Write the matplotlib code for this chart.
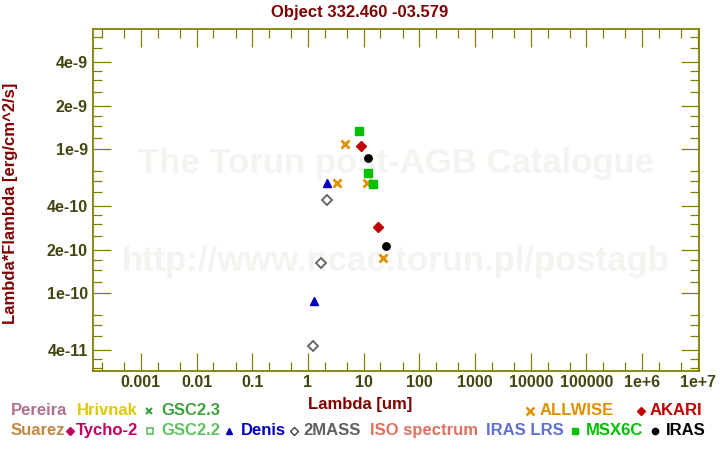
import matplotlib
matplotlib.use('Agg')
import matplotlib.pyplot as plt
from matplotlib.lines import Line2D
from matplotlib.ticker import FixedLocator, LogLocator, NullFormatter

plt.rcParams['font.family'] = ['Liberation Sans', 'DejaVu Sans']
plt.rcParams['font.weight'] = 'bold'

# photometry: wavelength [um] and lambda*F_lambda [erg/cm^2/s]
denis_wl = [1.27, 2.19]
denis_fl = [8.85e-11, 5.83e-10]
twomass_wl = [1.25, 1.71, 2.22]
twomass_fl = [4.31e-11, 1.61e-10, 4.42e-10]
allwise_wl = [3.36, 4.67, 11.6, 22.5]
allwise_fl = [5.78e-10, 1.08e-9, 5.78e-10, 1.74e-10]
msx_wl = [8.34, 12.1, 14.6]
msx_fl = [1.34e-9, 6.78e-10, 5.69e-10]
akari_wl = [9.06, 18.3]
akari_fl = [1.05e-9, 2.86e-10]
iras_wl = [12.1, 25.5]
iras_fl = [8.62e-10, 2.11e-10]

x_ticks = [1e-3, 1e-2, 1e-1, 1, 10, 100, 1e3, 1e4, 1e5, 1e6, 1e7]
x_labels = ['0.001', '0.01', '0.1', '1', '10', '100', '1000', '10000',
            '100000', '1e+6', '1e+7']
y_ticks = [4e-11, 1e-10, 2e-10, 4e-10, 1e-9, 2e-9, 4e-9]
y_labels = ['4e-11', '1e-10', '2e-10', '4e-10', '1e-9', '2e-9', '4e-9']

olive = '#808000'
ticktxt = '#454512'
darkred = '#800000'

fig = plt.figure(figsize=(7.2, 4.5), dpi=100)
ax = fig.add_axes([92.7 / 720, 1 - 370.7 / 450, (699 - 92.7) / 720, (370.7 - 29.3) / 450])

# watermark
ax.text(0.5, 0.608, 'The Torun post-AGB Catalogue', transform=ax.transAxes,
        ha='center', va='center', fontsize=25, color='#f5f3ef', zorder=0)
ax.text(0.5, 0.319, 'http://www.ncac.torun.pl/postagb', transform=ax.transAxes,
        ha='center', va='center', fontsize=25, color='#f5f3ef', zorder=0)

# data
ax.plot(twomass_wl, twomass_fl, 'D', ms=5.2, mfc='white', mec='#606060', mew=1.3, ls='none')
ax.plot(denis_wl, denis_fl, '^', ms=5.8, color='#0000c0', ls='none')
ax.plot(allwise_wl, allwise_fl, 'x', ms=6, mew=2, color='#e09000', ls='none')
ax.plot(msx_wl, msx_fl, 's', ms=5.3, color='#00c000', ls='none')
ax.plot(akari_wl, akari_fl, 'D', ms=5.5, color='#c00000', ls='none')
ax.plot(iras_wl, iras_fl, 'o', ms=5.3, color='black', ls='none')

ax.set_xscale('log')
ax.set_yscale('log')
ax.set_xlim(10 ** -3.865, 10 ** 7.02)
ax.set_ylim(10 ** -10.540, 10 ** -8.169)

ax.xaxis.set_major_locator(FixedLocator(x_ticks))
ax.set_xticklabels(x_labels)
ax.xaxis.set_minor_locator(LogLocator(subs=(2, 5), numticks=50))
ax.xaxis.set_minor_formatter(NullFormatter())
ax.yaxis.set_major_locator(FixedLocator(y_ticks))
ax.set_yticklabels(y_labels)
ax.yaxis.set_minor_locator(LogLocator(subs=(1.2, 1.45, 1.7, 2.5, 3.0, 3.5, 5.0, 6.0, 7.0), numticks=50))
ax.yaxis.set_minor_formatter(NullFormatter())

ax.tick_params(which='both', direction='in', top=True, right=True, color=olive, width=0.9)
ax.tick_params(which='major', length=13, labelsize=11.5, labelcolor=ticktxt)
ax.tick_params(which='minor', length=6.5)
ax.tick_params(axis='x', pad=3)
ax.tick_params(axis='y', pad=3.5)
for s in ax.spines.values():
    s.set_color(olive)
    s.set_linewidth(1.3)

fig.text(0.5, 1 - 12 / 450, 'Object 332.460 -03.579', ha='center', va='center',
         fontsize=12, color=darkred)
fig.text(0.5, 1 - 405 / 450, 'Lambda [um]', ha='center', va='center',
         fontsize=12, color=darkred)
fig.text(11 / 720, 1 - 203 / 450, 'Lambda*Flambda [erg/cm^2/s]', ha='center', va='center',
         rotation=90, fontsize=12, color=darkred)

# legend (text entries with small markers)
row1, row2 = 410.7, 430.7
legend_text = [
    ('Pereira', '#b07090', 11, row1),
    ('Hrivnak', '#e0c800', 77, row1),
    ('GSC2.3', '#40a040', 161, row1),
    ('ALLWISE', '#e09000', 540, row1),
    ('AKARI', '#c00000', 650, row1),
    ('Suarez', '#c08840', 11, row2),
    ('Tycho-2', '#c00060', 76, row2),
    ('GSC2.2', '#60c060', 161, row2),
    ('Denis', '#0000c0', 241, row2),
    ('2MASS', '#606060', 303, row2),
    ('ISO spectrum', '#e07060', 370, row2),
    ('IRAS LRS', '#6070d0', 486, row2),
    ('MSX6C', '#00c000', 586, row2),
    ('IRAS', 'black', 666, row2),
]
for label, col, px, py in legend_text:
    fig.text(px / 720, 1 - py / 450, label, ha='left', va='center', fontsize=12, color=col)

legend_marks = [
    ('x', '#40a040', 149, row1, 4, 1.5, True),
    ('x', '#e09000', 530, row1, 5.5, 1.8, True),
    ('D', '#c00000', 641, row1, 4.5, 1, True),
    ('D', '#c00060', 70, row2, 4.5, 1, True),
    ('s', '#60c060', 150, row2, 4, 1.2, False),
    ('^', '#0000c0', 229, row2, 5, 1, True),
    ('D', '#404040', 294, row2, 4, 1, False),
    ('s', '#00c000', 575, row2, 5, 1, True),
    ('o', 'black', 655, row2, 4.5, 1, True),
]
for m, col, px, py, ms, mew, filled in legend_marks:
    fig.add_artist(Line2D([px / 720], [1 - py / 450], marker=m, ms=ms, mew=mew,
                          mec=col, mfc=col if filled else 'white', ls='none',
                          transform=fig.transFigure))

fig.savefig('out.png', dpi=100)
